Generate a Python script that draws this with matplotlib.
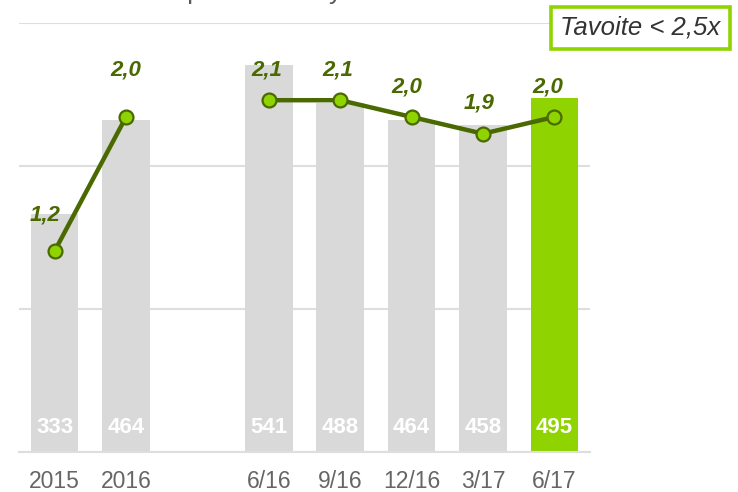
import matplotlib.pyplot as plt
import numpy as np

plt.rcParams['font.family'] = ['Liberation Sans', 'DejaVu Sans']

periods = ['2015', '2016', '6/16', '9/16', '12/16', '3/17', '6/17']
slots = [0, 1, 3, 4, 5, 6, 7]
ebitda = [333, 464, 541, 488, 464, 458, 495]
ratio = [1.2, 2.0, 2.1, 2.1, 2.0, 1.9, 2.0]
ratio_labels = ['1,2', '2,0', '2,1', '2,1', '2,0', '1,9', '2,0']
segments = [(0, 2), (2, 7)]  # line is broken between annual and quarterly

gray = '#d9d9d9'
lime = '#8fd400'
dark = '#4a6900'

fig = plt.figure(figsize=(7.38, 4.92), dpi=100)
ax = fig.add_axes([0.0257, 0.0813, 0.7738, 0.872])

colors = [gray] * (len(ebitda) - 1) + [lime]
ax.bar(slots, ebitda, width=0.666, color=colors, zorder=2)
ax.set_ylim(0, 600)
ax.set_xlim(-0.5, 7.5)
ax.set_yticks([0, 200, 400, 600])
ax.yaxis.grid(True, color='#dedede', linewidth=1.5, zorder=0)
ax.set_xticks(slots)
ax.set_xticklabels(periods, fontsize=16.5, color='#666666')
for s in ['top', 'right', 'left']:
    ax.spines[s].set_visible(False)
ax.spines['bottom'].set_color('#dedede')
ax.spines['bottom'].set_linewidth(1.5)

for x, v in zip(slots, ebitda):
    ax.annotate(str(v), (x, 0), xytext=(0, 25), textcoords='offset pixels',
                ha='center', va='center', fontsize=16, fontweight='bold',
                color='white', zorder=4)

ax2 = ax.twinx()
ax2.set_ylim(0, 2.561)
ax2.axis('off')
ax.tick_params(axis='y', left=False, right=False, labelleft=False, labelright=False)
ax.tick_params(axis='x', length=0, pad=13)
for a, b in segments:
    ax2.plot(slots[a:b], ratio[a:b], color=dark, linewidth=3.2, marker='o',
             markersize=10, markerfacecolor=lime, markeredgecolor=dark,
             markeredgewidth=1.6, zorder=5)

offsets = [(-10, 36), (0, 47), (-2, 30), (-2, 30), (-5, 30), (-4, 31), (-7, 30)]
for x, v, t, off in zip(slots, ratio, ratio_labels, offsets):
    ax2.annotate(t, (x, v), xytext=off, textcoords='offset pixels',
                 ha='center', va='center', fontsize=16, fontweight='bold',
                 fontstyle='italic', color=dark)

fig.text(0.077, 1 + 1.5 / 492, 'Nettovelka per 12 kk käyttökate', fontsize=18.7,
         color='#595959', ha='left', va='baseline')

fig.text(640.5 / 738, 1 - 28 / 492, 'Tavoite < 2,5x', fontsize=18.5,
         fontstyle='italic', color='#333333', ha='center', va='center',
         bbox=dict(boxstyle='square,pad=0.36', facecolor='white',
                   edgecolor=lime, linewidth=2.6))

fig.savefig('out.png', dpi=100)
